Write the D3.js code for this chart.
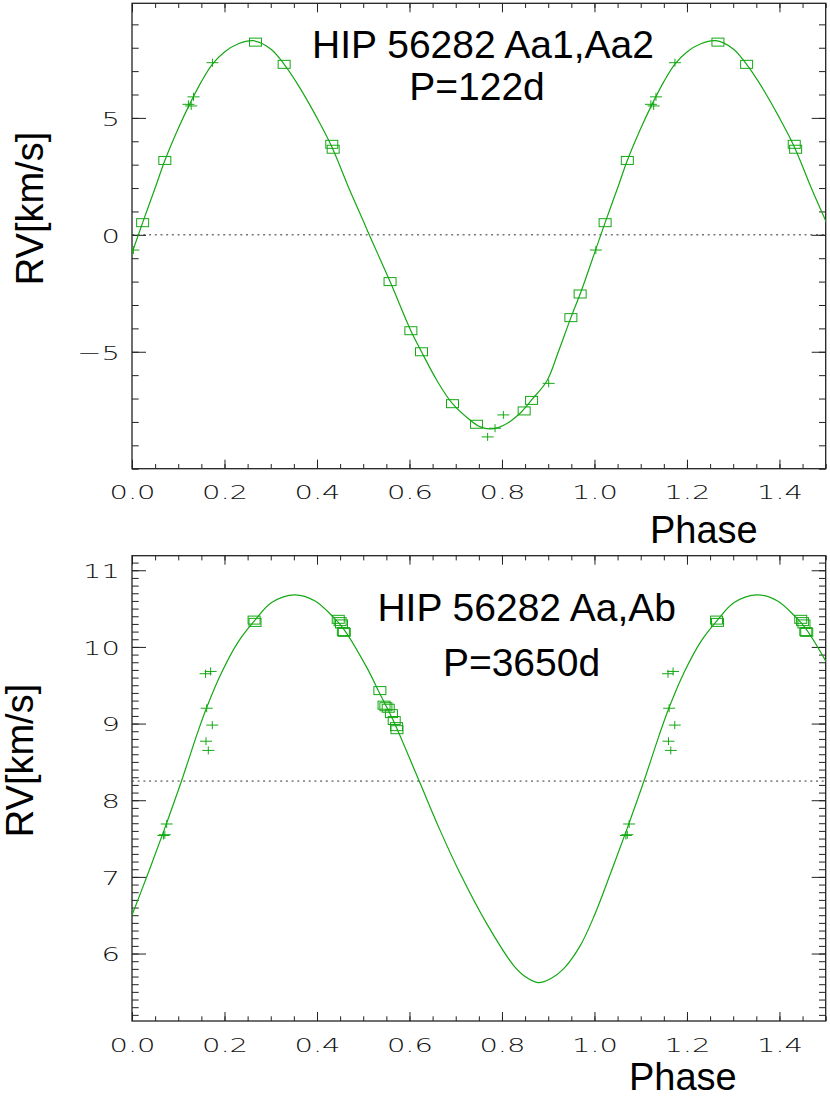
<!DOCTYPE html>
<html><head><meta charset="utf-8">
<script src="https://cdn.jsdelivr.net/npm/d3@7"></script>
<style>body{margin:0;background:#fff} svg{display:block}</style>
</head><body><svg id="c" width="830" height="1098"></svg>
<script>
// ---------- DATA ----------
const phaseTicks = [0, 0.2, 0.4, 0.6, 0.8, 1.0, 1.2, 1.4];
const phaseTickLabels = ["0.0", "0.2", "0.4", "0.6", "0.8", "1.0", "1.2", "1.4"];

const topYTicks = [-5, 0, 5];
const topYTickLabels = ["\u22125", "0", "5"];
const botYTicks = [6, 7, 8, 9, 10, 11];
const botYTickLabels = ["6", "7", "8", "9", "10", "11"];

const topTitle = ["HIP 56282 Aa1,Aa2", "P=122d"];
const botTitle = ["HIP 56282 Aa,Ab", "P=3650d"];
const topGamma = 0;
const botGamma = 8.25;

// [phase, RV]
const topSquares = [[0.023,0.52],[0.071,3.18],[0.267,8.24],[0.329,7.29],[0.432,3.87],[0.435,3.66],
  [0.558,-2.0],[0.603,-4.1],[0.626,-5.0],[0.693,-7.22],[0.745,-8.10],[0.848,-7.53],[0.864,-7.08],
  [0.949,-3.54],[0.969,-2.53]];
const topPluses = [[0.003,-0.65],[0.122,5.58],[0.128,5.51],[0.133,5.90],[0.174,7.36],
  [0.769,-8.64],[0.785,-8.27],[0.803,-7.70],[0.901,-6.35]];
const topCurve = [[0.000,-0.78],[0.023,0.52],[0.050,2.00],[0.071,3.18],[0.100,4.55],[0.125,5.60],
  [0.150,6.55],[0.174,7.30],[0.200,7.82],[0.230,8.17],[0.262,8.30],[0.300,7.95],[0.329,7.29],
  [0.360,6.38],[0.400,5.00],[0.432,3.77],[0.470,1.95],[0.500,0.60],[0.513,0.00],[0.558,-2.00],
  [0.603,-4.10],[0.626,-5.00],[0.660,-6.25],[0.693,-7.22],[0.731,-7.92],[0.752,-8.20],[0.774,-8.30],
  [0.795,-8.22],[0.817,-7.99],[0.839,-7.63],[0.864,-7.06],[0.897,-6.25],[0.922,-5.00],[0.949,-3.54],
  [0.969,-2.53],[0.980,-1.93]];

const botSquares = [[0.264,10.35],[0.266,10.32],[0.446,10.36],[0.450,10.33],[0.453,10.30],
  [0.457,10.20],[0.459,10.19],[0.536,9.43],[0.545,9.24],[0.549,9.22],[0.554,9.20],[0.561,9.13],
  [0.567,9.04],[0.572,8.96],[0.573,8.92]];
const botPluses = [[0.068,7.54],[0.071,7.55],[0.075,7.69],[0.159,9.65],[0.170,9.68],[0.1615,9.20],
  [0.1736,8.98],[0.160,8.77],[0.165,8.65]];
const botCurve = [[0.000,6.50],[0.035,7.05],[0.070,7.62],[0.107,8.25],[0.140,8.85],[0.1615,9.21],
  [0.194,9.67],[0.230,10.07],[0.266,10.35],[0.302,10.58],[0.352,10.68],[0.396,10.60],[0.435,10.39],
  [0.457,10.24],[0.507,9.74],[0.536,9.39],[0.565,9.04],[0.621,8.25],[0.666,7.61],[0.709,7.05],
  [0.767,6.39],[0.8245,5.85],[0.850,5.70],[0.8785,5.62],[0.905,5.67],[0.933,5.80],[0.969,6.10]];

// ---------- DRAW ----------
const svg = d3.select("#c");
const GREEN = "#14a814";
const AX = "#222";
const x0 = 132, x1 = 825.7;

const panels = [
  {id:"t", top:3.3, bottom:468.7, yDomain:[-10, 9.9], yTicks:topYTicks, yLabels:topYTickLabels,
   yMinor:d3.range(-10, 10, 1), squares:topSquares, pluses:topPluses, curve:topCurve, gamma:topGamma,
   title:topTitle, t1:[483, 58.3], t2:[477, 100], ylab:[43, 208.5], xlab:[650, 543], lblY:30.5},
  {id:"b", top:555.7, bottom:1021, yDomain:[5.12, 11.19], yTicks:botYTicks, yLabels:botYTickLabels,
   yMinor:d3.range(52, 112, 1).map(d=>d/10), squares:botSquares, pluses:botPluses, curve:botCurve, gamma:botGamma,
   title:botTitle, t1:[526.7, 620.7], t2:[521.5, 676], ylab:[33, 760.5], xlab:[629, 1090], lblY:31}
];

const xMinor = d3.range(0, 31, 1).map(d => d*0.05);

panels.forEach(p => {
  const x = d3.scaleLinear().domain([0, 1.5]).range([x0, x1]);
  const y = d3.scaleLinear().domain(p.yDomain).range([p.bottom, p.top]);
  const g = svg.append("g");

  g.append("clipPath").attr("id", "clip"+p.id).append("rect")
    .attr("x", x0).attr("y", p.top).attr("width", x1-x0).attr("height", p.bottom-p.top);

  const styleAxis = sel => {
    sel.select(".domain").remove();
    sel.selectAll(".tick line").attr("stroke", AX).attr("stroke-width", 1);
  };

  // x axis bottom (major with labels, minor)
  const xb = g.append("g").attr("transform", `translate(0,${p.bottom})`)
    .call(d3.axisBottom(x).tickValues(phaseTicks).tickSize(-9).tickSizeOuter(0)
      .tickFormat((d,i) => phaseTickLabels[i]));
  styleAxis(xb);
  xb.selectAll(".tick text").attr("y", null).attr("dy", null)
    .attr("transform", `translate(0,${p.lblY}) scale(1.45,1)`)
    .attr("font-family", "'DejaVu Sans', sans-serif").attr("font-weight", 200)
    .attr("font-size", 20).attr("fill", "#111").attr("text-anchor", "middle");
  g.append("g").attr("transform", `translate(0,${p.bottom})`)
    .call(d3.axisBottom(x).tickValues(xMinor).tickSize(-4.7).tickSizeOuter(0).tickFormat(""))
    .call(styleAxis);
  // x axis top
  g.append("g").attr("transform", `translate(0,${p.top})`)
    .call(d3.axisTop(x).tickValues(phaseTicks).tickSize(-9).tickSizeOuter(0).tickFormat(""))
    .call(styleAxis);
  g.append("g").attr("transform", `translate(0,${p.top})`)
    .call(d3.axisTop(x).tickValues(xMinor).tickSize(-4.7).tickSizeOuter(0).tickFormat(""))
    .call(styleAxis);

  // y axis left
  const yl = g.append("g").attr("transform", `translate(${x0},0)`)
    .call(d3.axisLeft(y).tickValues(p.yTicks).tickSize(-14).tickSizeOuter(0)
      .tickFormat((d,i) => p.yLabels[i]));
  styleAxis(yl);
  yl.selectAll(".tick text").attr("x", null).attr("dy", null)
    .attr("transform", `translate(-12,7.3) scale(1.45,1)`)
    .attr("font-family", "'DejaVu Sans', sans-serif").attr("font-weight", 200)
    .attr("font-size", 20).attr("fill", "#111").attr("text-anchor", "end");
  g.append("g").attr("transform", `translate(${x0},0)`)
    .call(d3.axisLeft(y).tickValues(p.yMinor).tickSize(-6.7).tickSizeOuter(0).tickFormat(""))
    .call(styleAxis);
  // y axis right
  g.append("g").attr("transform", `translate(${x1},0)`)
    .call(d3.axisRight(y).tickValues(p.yTicks).tickSize(-14).tickSizeOuter(0).tickFormat(""))
    .call(styleAxis);
  g.append("g").attr("transform", `translate(${x1},0)`)
    .call(d3.axisRight(y).tickValues(p.yMinor).tickSize(-6.7).tickSizeOuter(0).tickFormat(""))
    .call(styleAxis);

  // frame
  g.append("rect").attr("x", x0).attr("y", p.top).attr("width", x1-x0).attr("height", p.bottom-p.top)
    .attr("fill", "none").attr("stroke", AX).attr("stroke-width", 1.3);

  // systemic velocity line
  g.append("line").attr("x1", x0).attr("x2", x1).attr("y1", y(p.gamma)).attr("y2", y(p.gamma))
    .attr("stroke", "#333").attr("stroke-width", 1).attr("stroke-dasharray", "2,3.7");

  const plot = g.append("g").attr("clip-path", `url(#clip${p.id})`);

  // model curve (plotted over two cycles)
  const curvePts = p.curve.concat(p.curve.map(d => [d[0]+1, d[1]]), p.curve.map(d => [d[0]+2, d[1]]));
  const line = d3.line().x(d => x(d[0])).y(d => y(d[1])).curve(d3.curveCatmullRom.alpha(0.5));
  plot.append("path").attr("d", line(curvePts)).attr("fill", "none")
    .attr("stroke", GREEN).attr("stroke-width", 1.2);

  const dup = arr => arr.concat(arr.map(d => [d[0]+1, d[1]])).filter(d => d[0] <= 1.5);

  plot.selectAll(".sq").data(dup(p.squares)).join("rect")
    .attr("x", d => x(d[0]) - 6).attr("y", d => y(d[1]) - 4)
    .attr("width", 12).attr("height", 8)
    .attr("fill", "none").attr("stroke", GREEN).attr("stroke-width", 1);

  plot.selectAll(".pl").data(dup(p.pluses)).join("path")
    .attr("d", d => { const cx = x(d[0]), cy = y(d[1]);
      return `M${cx-6},${cy}H${cx+6}M${cx},${cy-4}V${cy+4}`; })
    .attr("fill", "none").attr("stroke", GREEN).attr("stroke-width", 1);

  // titles
  const tf = "'Liberation Sans', Arial, Helvetica, sans-serif";
  g.append("text").attr("x", p.t1[0]).attr("y", p.t1[1]).attr("text-anchor", "middle")
    .attr("font-family", tf).attr("font-size", 39).attr("fill", "#000").text(p.title[0]);
  g.append("text").attr("x", p.t2[0]).attr("y", p.t2[1]).attr("text-anchor", "middle")
    .attr("font-family", tf).attr("font-size", 39).attr("fill", "#000").text(p.title[1]);
  g.append("text").attr("transform", `translate(${p.ylab[0]},${p.ylab[1]}) rotate(-90)`)
    .attr("text-anchor", "middle").attr("font-family", tf).attr("font-size", 38).attr("fill", "#000")
    .text("RV[km/s]");
  g.append("text").attr("x", p.xlab[0]).attr("y", p.xlab[1])
    .attr("font-family", tf).attr("font-size", 38).attr("fill", "#000").text("Phase");
});
</script>
</body></html>
